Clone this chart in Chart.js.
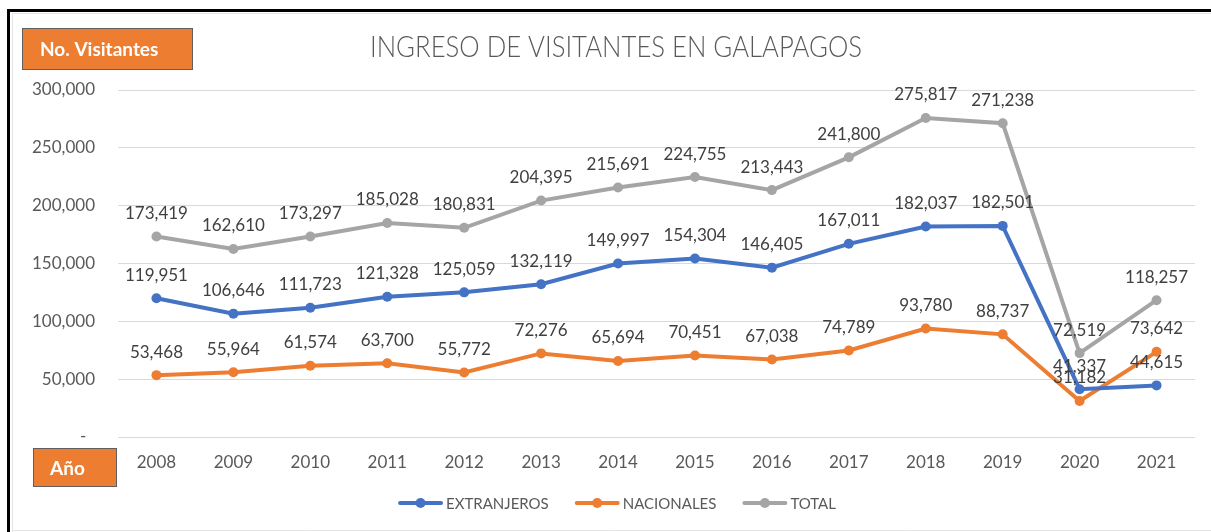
<!DOCTYPE html>
<html>
<head>
<meta charset="utf-8">
<script src="https://cdn.jsdelivr.net/npm/chart.js@4.4.1/dist/chart.umd.min.js"></script>
<style>
  html, body { margin: 0; padding: 0; background: #fff; }
  #wrap { position: relative; width: 1211px; height: 532px; }
</style>
</head>
<body>
<div id="wrap"><canvas id="chart" width="1211" height="532"></canvas></div>
<script>
// ----- Data -----
const YEARS = ['2008', '2009', '2010', '2011', '2012', '2013', '2014',
               '2015', '2016', '2017', '2018', '2019', '2020', '2021'];

const EXTRANJEROS = [119951, 106646, 111723, 121328, 125059, 132119, 149997,
                     154304, 146405, 167011, 182037, 182501, 41337, 44615];

const NACIONALES = [53468, 55964, 61574, 63700, 55772, 72276, 65694,
                    70451, 67038, 74789, 93780, 88737, 31182, 73642];

const TOTAL = [173419, 162610, 173297, 185028, 180831, 204395, 215691,
               224755, 213443, 241800, 275817, 271238, 72519, 118257];

const Y_MAX = 300000;
const Y_STEP = 50000;

const TITLE = 'INGRESO DE VISITANTES EN GALAPAGOS';
const Y_BOX_LABEL = 'No. Visitantes';
const X_BOX_LABEL = 'Año';

const BLUE = '#4472C4';
const ORANGE = '#ED7D31';
const GRAY = '#A5A5A5';
const TEXT = '#595959';
const FONT = 'Lato, "Open Sans", sans-serif';

const fmt = v => v.toLocaleString('en-US');

// ----- Plugins -----

// Value labels above every point
const valueLabels = {
  id: 'valueLabels',
  afterDatasetsDraw(chart) {
    const ctx = chart.ctx;
    ctx.save();
    ctx.fillStyle = '#404040';
    ctx.font = '17px ' + FONT;
    ctx.textAlign = 'center';
    ctx.textBaseline = 'middle';
    chart.data.datasets.forEach((ds, i) => {
      const meta = chart.getDatasetMeta(i);
      meta.data.forEach((pt, j) => {
        ctx.fillText(fmt(ds.data[j]), pt.x, pt.y - 23);
      });
    });
    ctx.restore();
  },
};

// Frame, title, orange axis boxes and legend
const decorations = {
  id: 'decorations',
  beforeDraw(chart) {
    const ctx = chart.ctx;
    ctx.save();
    ctx.fillStyle = '#fff';
    ctx.fillRect(0, 0, chart.width, chart.height);
    // outer frame
    ctx.strokeStyle = '#e3e3e3';
    ctx.lineWidth = 1;
    ctx.beginPath();
    ctx.moveTo(12.5, chart.height);
    ctx.lineTo(12.5, 13.5);
    ctx.lineTo(chart.width, 13.5);
    ctx.moveTo(12, chart.height - 1.5);
    ctx.lineTo(chart.width, chart.height - 1.5);
    ctx.stroke();
    ctx.fillStyle = '#000';
    ctx.fillRect(7, 9, chart.width - 7, 3);
    ctx.fillRect(7, 9, 3, chart.height - 9);
    ctx.restore();
  },
  afterDraw(chart) {
    const ctx = chart.ctx;
    ctx.save();

    // title
    ctx.fillStyle = TEXT;
    ctx.font = '300 29px ' + FONT;
    ctx.textAlign = 'center';
    ctx.textBaseline = 'middle';
    ctx.fillText(TITLE, 616, 48, 492);

    // orange boxes
    const box = (x, y, w, h, text, size, tx) => {
      ctx.fillStyle = ORANGE;
      ctx.fillRect(x, y, w, h);
      ctx.strokeStyle = '#5f5f5f';
      ctx.lineWidth = 1;
      ctx.strokeRect(x + 0.5, y + 0.5, w - 1, h - 1);
      ctx.fillStyle = '#fff';
      ctx.font = 'bold ' + size + 'px ' + FONT;
      ctx.textAlign = 'left';
      ctx.textBaseline = 'middle';
      ctx.fillText(text, tx, y + h / 2 + 1);
    };
    box(22, 28, 171, 42, Y_BOX_LABEL, 19, 40);
    box(33, 448, 84, 39, X_BOX_LABEL, 19, 50);

    // legend: line + dot marker, then label
    const items = chart.data.datasets.map(ds => ({ text: ds.label, color: ds.borderColor }));
    ctx.font = '15px ' + FONT;
    const gap = 26, marker = 45, pad = 3;
    const widths = items.map(it => marker + pad + ctx.measureText(it.text).width);
    const total = widths.reduce((a, b) => a + b, 0) + gap * (items.length - 1);
    let x = 617 - total / 2;
    const y = 503;
    items.forEach((it, i) => {
      ctx.strokeStyle = it.color;
      ctx.lineWidth = 4;
      ctx.lineCap = 'round';
      ctx.beginPath();
      ctx.moveTo(x + 2, y);
      ctx.lineTo(x + marker - 2, y);
      ctx.stroke();
      ctx.fillStyle = it.color;
      ctx.beginPath();
      ctx.arc(x + marker / 2, y, 5, 0, Math.PI * 2);
      ctx.fill();
      ctx.fillStyle = TEXT;
      ctx.textAlign = 'left';
      ctx.fillText(it.text, x + marker + pad, y + 1);
      x += widths[i] + gap;
    });

    ctx.restore();
  },
};

// ----- Chart -----

const lineSet = (label, data, color) => ({
  label,
  data,
  borderColor: color,
  backgroundColor: color,
  borderWidth: 4,
  pointRadius: 5,
  pointHoverRadius: 5,
  pointBackgroundColor: color,
  pointBorderColor: color,
  pointBorderWidth: 0,
  tension: 0,
});

new Chart(document.getElementById('chart'), {
  type: 'line',
  data: {
    labels: YEARS,
    datasets: [
      lineSet('EXTRANJEROS', EXTRANJEROS, BLUE),
      lineSet('NACIONALES', NACIONALES, ORANGE),
      lineSet('TOTAL', TOTAL, GRAY),
    ],
  },
  options: {
    responsive: false,
    animation: false,
    layout: { padding: { top: 90, right: 16, bottom: 50, left: 0 } },
    plugins: {
      legend: { display: false },
      title: { display: false },
      tooltip: { enabled: false },
    },
    scales: {
      x: {
        offset: true,
        grid: { display: false, drawTicks: false },
        border: { display: false },
        ticks: {
          color: TEXT,
          font: { family: FONT, size: 17 },
          padding: 15,
          maxRotation: 0,
        },
        afterFit: s => { s.height = 45; },
      },
      y: {
        min: 0,
        max: Y_MAX,
        grid: { color: '#d9d9d9', lineWidth: 1, drawTicks: false },
        border: { display: false },
        ticks: {
          stepSize: Y_STEP,
          color: TEXT,
          font: { family: FONT, size: 17 },
          padding: 23,
          callback: v => (v === 0 ? '-  ' : fmt(v)),
        },
        afterFit: s => { s.width = 118; },
      },
    },
  },
  plugins: [decorations, valueLabels],
});
</script>
</body>
</html>
